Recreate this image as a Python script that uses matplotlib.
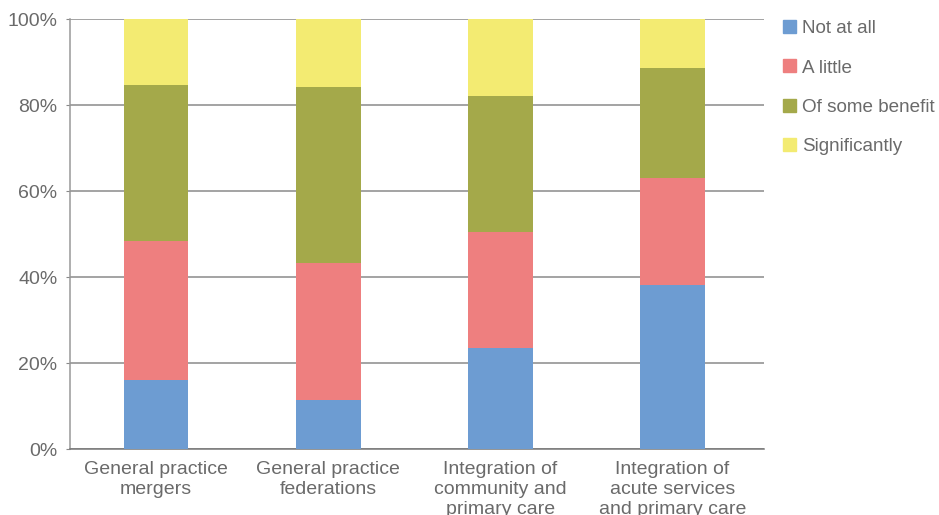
import numpy as np
import matplotlib.pyplot as plt
from matplotlib.patches import Patch

plt.rcParams['font.family'] = ['Liberation Sans', 'DejaVu Sans']

categories = ['General practice\nmergers', 'General practice\nfederations',
              'Integration of\ncommunity and\nprimary care',
              'Integration of\nacute services\nand primary care']
series_names = ['Not at all', 'A little', 'Of some benefit', 'Significantly']
not_at_all = [16.1, 11.5, 23.6, 38.2]
a_little = [32.3, 31.7, 27.0, 24.9]
some_benefit = [36.3, 41.0, 31.5, 25.5]
significantly = [15.3, 15.8, 17.9, 11.4]
yticks = [0, 20, 40, 60, 80, 100]

colors = ['#6d9cd2', '#ee7f7f', '#a4a94a', '#f3eb72']
text_col = '#6a6a6a'
fs = 14

fig = plt.figure(figsize=(9.39, 5.15), dpi=100)
ax = fig.add_axes([0.0745, 0.1276, 0.739, 0.8355])

x = np.arange(len(categories))
bottom = np.zeros(len(categories))
for vals, c in zip([not_at_all, a_little, some_benefit, significantly], colors):
    ax.bar(x, vals, 0.375, bottom=bottom, color=c, zorder=3)
    bottom += np.array(vals)

ax.set_xlim(-0.5, 3.53)
ax.set_ylim(0, 100)
ax.set_yticks(yticks)
ax.set_yticklabels([f'{v}%' for v in yticks])
ax.set_xticks(x)
ax.set_xticklabels(categories, linespacing=1.24)
ax.tick_params(axis='y', length=3, color='#888888', labelsize=fs,
               labelcolor=text_col, pad=6)
ax.tick_params(axis='x', length=0, labelsize=fs, labelcolor=text_col, pad=8.5)
ax.yaxis.grid(True, color='#8a8a8a', linewidth=1.1, zorder=0)
for s in ['top', 'right']:
    ax.spines[s].set_visible(False)
ax.spines['left'].set_color('#999999')
ax.spines['bottom'].set_color('#777777')
ax.spines['left'].set_linewidth(1.1)
ax.spines['bottom'].set_linewidth(1.1)

handles = [Patch(color=c, label=n) for c, n in zip(colors, series_names)]
fig.legend(handles=handles, loc='upper left', bbox_to_anchor=(0.8254, 0.976),
           frameon=False, fontsize=13.6, labelcolor=text_col,
           handlelength=0.69, handleheight=0.69, handletextpad=0.32,
           labelspacing=1.18, borderaxespad=0)

fig.savefig('out.png', dpi=100)
